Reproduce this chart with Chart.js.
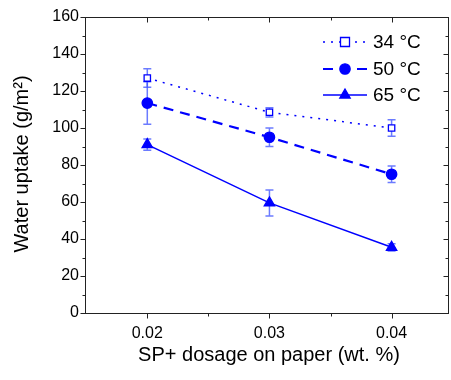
<!DOCTYPE html>
<html>
<head>
<meta charset="utf-8">
<script src="https://cdn.jsdelivr.net/npm/chart.js@4.4.1/dist/chart.umd.min.js"></script>
<style>
html,body{margin:0;padding:0;background:#fff;}
canvas{display:block;}
</style>
</head>
<body>
<canvas id="c" width="451" height="380"></canvas>
<script>
// ---- data ----
const dosages = [0.02, 0.03, 0.04];
const seriesLabels = ['34 °C', '50 °C', '65 °C'];
const uptake34 = [127, 108.5, 100];
const err34 = [5, 2.5, 4.5];
const uptake50 = [113.5, 95, 75];
const err50 = [11.5, 5, 4.5];
const uptake65 = [91, 59.5, 35.5];
const err65 = [3, 7, 2];
const xTickValues = [0.02, 0.03, 0.04];
const xMinorValues = [0.025, 0.035];
const yTickValues = [0, 20, 40, 60, 80, 100, 120, 140, 160];

const BLUE = '#0000ff';
const FONT = "'Liberation Sans', Arial, sans-serif";

function pts(vals){ return dosages.map((d,i)=>({x:d, y:vals[i]})); }

const styles = [
  {dash:[2,6], width:1.5, pointStyle:'rect', radius:4.5, fill:'#ffffff'},
  {dash:[10,7], width:2.2, pointStyle:'circle', radius:5.2, fill:BLUE},
  {dash:[], width:1.5, pointStyle:'triangle', radius:6, fill:BLUE}
];
const allVals = [uptake34, uptake50, uptake65];
const allErrs = [err34, err50, err65];

const datasets = allVals.map((v,i)=>({
  label: seriesLabels[i],
  data: pts(v),
  errors: allErrs[i],
  borderColor: BLUE,
  backgroundColor: styles[i].fill,
  borderWidth: styles[i].width,
  borderDash: styles[i].dash,
  pointStyle: styles[i].pointStyle,
  pointRadius: styles[i].radius,
  pointBorderWidth: 1.3,
  pointBorderColor: BLUE,
  pointBackgroundColor: styles[i].fill,
  tension: 0,
  fill: false
}));

function drawMarker(ctx, style, x, y, r, fill){
  ctx.save();
  ctx.setLineDash([]);
  ctx.strokeStyle = BLUE;
  ctx.fillStyle = fill;
  ctx.lineWidth = 1.3;
  ctx.beginPath();
  if(style==='rect'){
    ctx.rect(x-r, y-r, 2*r, 2*r);
  } else if(style==='circle'){
    ctx.arc(x, y, r, 0, Math.PI*2);
  } else {
    ctx.moveTo(x, y - r);
    ctx.lineTo(x + r*0.866, y + r*0.5);
    ctx.lineTo(x - r*0.866, y + r*0.5);
    ctx.closePath();
  }
  ctx.fill();
  ctx.stroke();
  ctx.restore();
}

const errorBars = {
  id:'errorBars',
  beforeDatasetsDraw(chart){
    const ctx = chart.ctx, xs = chart.scales.x, ys = chart.scales.y;
    ctx.save();
    ctx.strokeStyle = 'rgba(70,90,255,0.8)';
    ctx.lineWidth = 1.5;
    chart.data.datasets.forEach(ds=>{
      ds.data.forEach((p,i)=>{
        const e = ds.errors[i];
        const px = xs.getPixelForValue(p.x);
        const top = ys.getPixelForValue(p.y + e);
        const bot = ys.getPixelForValue(p.y - e);
        ctx.beginPath();
        ctx.moveTo(px, top); ctx.lineTo(px, bot);
        ctx.moveTo(px-4, top); ctx.lineTo(px+4, top);
        ctx.moveTo(px-4, bot); ctx.lineTo(px+4, bot);
        ctx.stroke();
      });
    });
    ctx.restore();
  }
};

const frame = {
  id:'frame',
  afterDraw(chart){
    const ctx = chart.ctx, a = chart.chartArea, xs = chart.scales.x, ys = chart.scales.y;
    const L = Math.round(a.left)+0.5, R = Math.round(a.right)-0.5, T = Math.round(a.top)+0.5, B = Math.round(a.bottom)+0.5;
    ctx.save();
    ctx.strokeStyle = '#222';
    ctx.lineWidth = 1;
    ctx.setLineDash([]);
    ctx.strokeRect(L, T, R-L, B-T);
    ctx.beginPath();
    yTickValues.forEach(v=>{
      const y = Math.round(ys.getPixelForValue(v))+0.5;
      ctx.moveTo(L-5, y); ctx.lineTo(L, y);
      ctx.moveTo(R, y); ctx.lineTo(R-5, y);
    });
    for(let v=10; v<160; v+=20){
      const y = Math.round(ys.getPixelForValue(v))+0.5;
      ctx.moveTo(L-3, y); ctx.lineTo(L, y);
      ctx.moveTo(R, y); ctx.lineTo(R-3, y);
    }
    xTickValues.forEach(v=>{
      const x = Math.round(xs.getPixelForValue(v))+0.5;
      ctx.moveTo(x, B); ctx.lineTo(x, B+5);
      ctx.moveTo(x, T); ctx.lineTo(x, T+5);
    });
    xMinorValues.forEach(v=>{
      const x = Math.round(xs.getPixelForValue(v))+0.5;
      ctx.moveTo(x, B); ctx.lineTo(x, B+3);
      ctx.moveTo(x, T); ctx.lineTo(x, T+3);
    });
    ctx.stroke();

    ctx.fillStyle = '#000';
    ctx.font = '20px ' + FONT;
    ctx.textAlign = 'center';
    ctx.textBaseline = 'middle';
    ctx.fillText('SP+ dosage on paper (wt. %)', 269, 355);
    ctx.save();
    ctx.translate(22, 164);
    ctx.rotate(-Math.PI/2);
    ctx.fillText('Water uptake (g/m²)', 0, 0);
    ctx.restore();

    const rowsY = [42, 69, 95];
    chart.data.datasets.forEach((ds,i)=>{
      const y = rowsY[i];
      ctx.save();
      ctx.strokeStyle = BLUE;
      ctx.lineWidth = styles[i].width;
      ctx.setLineDash(styles[i].dash);
      ctx.beginPath();
      ctx.moveTo(323, y); ctx.lineTo(367, y);
      ctx.stroke();
      ctx.restore();
      drawMarker(ctx, styles[i].pointStyle, 345, y, styles[i].radius, styles[i].fill);
      ctx.fillStyle = '#000';
      ctx.font = '19px ' + FONT;
      ctx.textAlign = 'left';
      ctx.textBaseline = 'middle';
      ctx.fillText(ds.label, 373, y+1);
    });
    ctx.restore();
  }
};

new Chart(document.getElementById('c'), {
  type:'line',
  data:{ datasets },
  options:{
    responsive:false,
    animation:false,
    layout:{ autoPadding:false, padding:{ top:17, right:2, left:0, bottom:0 } },
    plugins:{ legend:{display:false}, tooltip:{enabled:false} },
    scales:{
      x:{
        type:'linear', min:0.0149, max:0.0447,
        afterBuildTicks(s){ s.ticks = xTickValues.map(v=>({value:v})); },
        afterFit(s){ s.height = 67; s.paddingLeft = 0; s.paddingRight = 0; },
        grid:{ display:false, drawTicks:false },
        border:{ display:false },
        ticks:{ padding:11, color:'#000', font:{ family:FONT, size:16 }, maxRotation:0,
          callback:(v)=>Number(v).toFixed(2) }
      },
      y:{
        type:'linear', min:0, max:160,
        afterBuildTicks(s){ s.ticks = yTickValues.map(v=>({value:v})); },
        afterFit(s){ s.width = 85; s.paddingTop = 0; s.paddingBottom = 0; },
        grid:{ display:false, drawTicks:false },
        border:{ display:false },
        ticks:{ padding:6, color:'#000', font:{ family:FONT, size:16 } }
      }
    }
  },
  plugins:[errorBars, frame]
});
</script>
</body>
</html>
